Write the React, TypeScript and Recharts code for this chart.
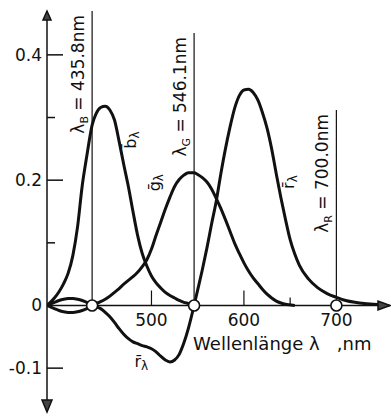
import React from 'react';
import { ComposedChart, Line, XAxis, YAxis, ReferenceLine, ReferenceDot } from 'recharts';

// Wavelength (nm)
const wavelengths = [
  387, 395, 400, 405, 410, 415, 420, 425, 430, 435.8,
  440, 445, 450, 455, 460, 465, 470, 475, 480, 485,
  490, 495, 500, 505, 510, 515, 520, 525, 530, 535,
  540, 546.1, 550, 555, 560, 565, 570, 575, 580, 585,
  590, 595, 600, 605, 610, 615, 620, 625, 630, 635,
  640, 645, 650, 655, 660, 670, 680, 690, 700, 710,
  720, 730, 740, 750,
];
// r̄λ
const rBar = [
  0, 0.005, 0.008, 0.010, 0.011, 0.011, 0.010, 0.008, 0.005, 0,
  -0.002, -0.005, -0.011, -0.018, -0.027, -0.037, -0.046, -0.053, -0.058, -0.061,
  -0.064, -0.066, -0.069, -0.074, -0.081, -0.087, -0.090, -0.087, -0.078, -0.060,
  -0.036, 0, 0.025, 0.057, 0.092, 0.130, 0.166, 0.210, 0.250, 0.285,
  0.315, 0.335, 0.344, 0.345, 0.340, 0.328, 0.308, 0.283, 0.250, 0.210,
  0.172, 0.137, 0.105, 0.082, 0.064, 0.042, 0.028, 0.019, 0.013, 0.008,
  0.005, 0.003, 0.002, 0.001,
];
// ḡλ
const gBar = [
  0, -0.005, -0.008, -0.010, -0.011, -0.011, -0.010, -0.008, -0.005, 0,
  0.003, 0.006, 0.010, 0.015, 0.021, 0.027, 0.034, 0.040, 0.046, 0.053,
  0.062, 0.073, 0.090, 0.112, 0.133, 0.154, 0.173, 0.190, 0.201, 0.208,
  0.212, 0.212, 0.209, 0.204, 0.197, 0.186, 0.171, 0.155, 0.137, 0.118,
  0.099, 0.083, 0.068, 0.055, 0.044, 0.035, 0.026, 0.018, 0.012, 0.007,
  0.004, 0.002, 0.001, 0,
];
// b̄λ
const bBar = [
  0, 0.012, 0.022, 0.035, 0.052, 0.080, 0.125, 0.190, 0.238, 0.288,
  0.306, 0.316, 0.318, 0.312, 0.296, 0.262, 0.225, 0.190, 0.150, 0.112,
  0.083, 0.063, 0.047, 0.036, 0.028, 0.021, 0.016, 0.012, 0.008, 0.005,
  0.003, 0,
];

const yTicks = [-0.1, 0, 0.1, 0.2, 0.3, 0.4];
const yTickLabels = ['-0.1', '0', '', '0.2', '', '0.4'];
const xTicks = [500, 600, 650];
const xTickLabels = ['500', '600', ''];
const xExtraLabels = [{ x: 700, text: '700' }];

const primaryWavelengths = [435.8, 546.1, 700.0];
const primaryNames = ['B', 'G', 'R'];
const primaryValueTexts = ['435.8nm', '546.1nm', '700.0nm'];
const primaryLineTops = [0.47, 0.435, 0.312];

const curveLabels = [
  { x: 477, y: 0.264, base: 'b\u0304', rotated: true },
  { x: 503, y: 0.196, base: '\u1E21', rotated: true },
  { x: 648, y: 0.197, base: 'r\u0304', rotated: true },
  { x: 489, y: -0.089, base: 'r\u0304', rotated: false },
];

const xDomain = [387, 758];
const yDomain = [-0.17, 0.47];
const axisLabel = 'Wellenl\u00E4nge \u03BB\u00A0\u00A0\u00A0,nm';
const axisLabelPos = { x: 545, y: -0.071 };

const data = wavelengths.map((l, i) => ({
  lambda: l,
  r: rBar[i],
  g: i < gBar.length ? gBar[i] : null,
  b: i < bBar.length ? bBar[i] : null,
}));

const INK = '#111';
const FONT = 'DejaVu Sans';

const YTick = (props: any) => {
  const { x, y, payload } = props;
  const i = yTicks.indexOf(payload.value);
  const label = yTickLabels[i];
  const len = payload.value === 0 ? 0 : label ? 16 : 8;
  return (
    <g>
      {len > 0 && <line x1={x} x2={x + len} y1={y} y2={y} stroke={INK} strokeWidth={1.5} />}
      {label && (
        <text x={x - 5} y={y} textAnchor="end" dominantBaseline="central" fontSize={17} fontFamily={FONT} fill={INK}>
          {label}
        </text>
      )}
    </g>
  );
};

const makePrimaryShape = (i: number) => (p: any) => {
  const x = p.x1;
  const top = Math.min(p.y1, p.y2);
  const bottom = Math.max(p.y1, p.y2);
  const tx = x - 8;
  const ty = top + 4;
  return (
    <g>
      <line x1={x} x2={x} y1={top} y2={bottom} stroke={INK} strokeWidth={1.2} />
      <text x={tx} y={ty} transform={`rotate(-90 ${tx} ${ty})`} textAnchor="end" fontSize={17} fontFamily={FONT} fill={INK}>
        {'\u03BB'}
        <tspan dy={4} fontSize={11}>{primaryNames[i]}</tspan>
        <tspan dy={-4}>{' = ' + primaryValueTexts[i]}</tspan>
      </text>
    </g>
  );
};

const xTickShape = (label: string, len: number) => (p: any) => (
  <g>
    {len > 0 && <line x1={p.cx} x2={p.cx} y1={p.cy} y2={p.cy - len} stroke={INK} strokeWidth={1.2} />}
    {label && (
      <text x={p.cx} y={p.cy + 21} textAnchor="middle" fontSize={17} fontFamily={FONT} fill={INK}>
        {label}
      </text>
    )}
  </g>
);

const curveLabelShape = (base: string, rotated: boolean) => (p: any) => {
  const { cx, cy } = p;
  return (
    <text
      x={cx}
      y={cy}
      transform={rotated ? `rotate(-90 ${cx} ${cy})` : undefined}
      textAnchor="middle"
      dominantBaseline="central"
      fontSize={16}
      fontFamily={FONT}
      fill={INK}
    >
      {base}
      <tspan dy={5} fontSize={12}>{'\u03BB'}</tspan>
    </text>
  );
};

const arrowUp = (p: any) => (
  <polygon points={`${p.cx},${p.cy} ${p.cx - 4},${p.cy + 9} ${p.cx + 4},${p.cy + 9}`} fill="#444" stroke={INK} strokeWidth={1.5} />
);
const arrowDown = (p: any) => (
  <polygon points={`${p.cx},${p.cy} ${p.cx - 5},${p.cy - 12} ${p.cx + 5},${p.cy - 12}`} fill="#444" stroke={INK} strokeWidth={1.5} />
);
const arrowRight = (p: any) => (
  <polygon points={`${p.cx},${p.cy} ${p.cx - 12},${p.cy - 4.5} ${p.cx - 12},${p.cy + 4.5}`} fill="#444" stroke={INK} strokeWidth={1.5} />
);
const hollowCircle = (p: any) => (
  <circle cx={p.cx} cy={p.cy} r={5.5} fill="#fff" stroke={INK} strokeWidth={1.6} />
);
const axisText = (p: any) => (
  <text x={p.cx} y={p.cy} textAnchor="start" fontSize={18} fontFamily={FONT} fill={INK}>
    {axisLabel}
  </text>
);

export default function App() {
  return (
    <div style={{ position: 'absolute', left: 0, top: 0, width: 391, height: 417, background: '#fff' }}>
      <ComposedChart width={391} height={417} data={data} margin={{ top: 11, right: 1, bottom: 5, left: 0 }}>
        <XAxis type="number" dataKey="lambda" domain={xDomain} allowDataOverflow hide />
        <YAxis
          type="number"
          domain={yDomain}
          allowDataOverflow
          ticks={yTicks}
          interval={0}
          width={47}
          tickSize={0}
          tickMargin={0}
          tickLine={false}
          axisLine={{ stroke: INK, strokeWidth: 1.5 }}
          tick={YTick}
        />
        <ReferenceLine y={0} stroke={INK} strokeWidth={1.5} />
        {primaryWavelengths.map((w, i) => (
          <ReferenceLine
            key={'p' + i}
            segment={[{ x: w, y: 0 }, { x: w, y: primaryLineTops[i] }]}
            ifOverflow="visible"
            shape={makePrimaryShape(i)}
          />
        ))}
        <Line type="monotone" dataKey="b" stroke={INK} strokeWidth={3} dot={false} isAnimationActive={false} />
        <Line type="monotone" dataKey="g" stroke={INK} strokeWidth={3} dot={false} isAnimationActive={false} />
        <Line type="monotone" dataKey="r" stroke={INK} strokeWidth={3} dot={false} isAnimationActive={false} />
        {xTicks.map((t, i) => (
          <ReferenceDot key={'xt' + i} x={t} y={0} r={1} ifOverflow="visible" shape={xTickShape(xTickLabels[i], xTickLabels[i] ? 15 : 8)} />
        ))}
        {xExtraLabels.map((t, i) => (
          <ReferenceDot key={'xe' + i} x={t.x} y={0} r={1} ifOverflow="visible" shape={xTickShape(t.text, 0)} />
        ))}
        {primaryWavelengths.map((w, i) => (
          <ReferenceDot key={'c' + i} x={w} y={0} r={5.5} ifOverflow="visible" shape={hollowCircle} />
        ))}
        {curveLabels.map((c, i) => (
          <ReferenceDot key={'cl' + i} x={c.x} y={c.y} r={1} ifOverflow="visible" shape={curveLabelShape(c.base, c.rotated)} />
        ))}
        <ReferenceDot x={axisLabelPos.x} y={axisLabelPos.y} r={1} ifOverflow="visible" shape={axisText} />
        <ReferenceDot x={xDomain[0]} y={yDomain[1]} r={1} ifOverflow="visible" shape={arrowUp} />
        <ReferenceDot x={xDomain[0]} y={yDomain[0]} r={1} ifOverflow="visible" shape={arrowDown} />
        <ReferenceDot x={xDomain[1]} y={0} r={1} ifOverflow="visible" shape={arrowRight} />
      </ComposedChart>
    </div>
  );
}
